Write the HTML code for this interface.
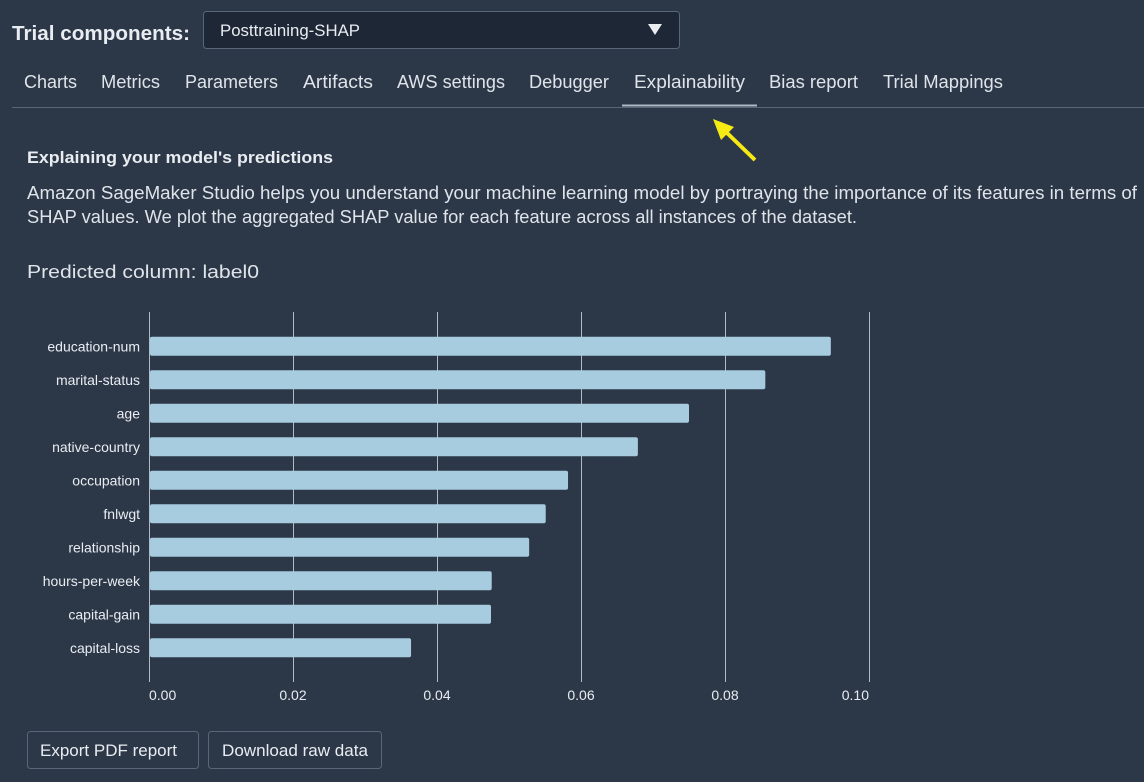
<!DOCTYPE html>
<html><head><meta charset="utf-8"><style>
html,body{margin:0;padding:0;background:#2c3747;}
svg{display:block;font-family:"Liberation Sans",sans-serif;}
</style></head><body>
<svg width="1144" height="782" viewBox="0 0 1144 782">
<rect x="0" y="0" width="1144" height="782" fill="#2c3747"/>
<text x="12" y="40" font-size="20" font-weight="bold" fill="#e9edf2" textLength="178" lengthAdjust="spacingAndGlyphs">Trial components:</text>
<g>
<rect x="203.5" y="11.5" width="476" height="37" rx="3" fill="#1e2735" stroke="#5a6577"/>
<text x="220" y="36" font-size="17" fill="#e9edf2" textLength="140" lengthAdjust="spacingAndGlyphs">Posttraining-SHAP</text>
<path d="M648 24 L662 24 L655 35 Z" fill="#e9edf2"/>
</g>
<g font-size="18" fill="#dfe4ea" id="tabs"></g>
<line x1="12" y1="107.5" x2="1144" y2="107.5" stroke="#5b6677"/>
<line x1="622" y1="105.5" x2="757" y2="105.5" stroke="#aeb7c4" stroke-width="2"/>
<g>
<line x1="755" y1="160" x2="724" y2="130" stroke="#f5ea14" stroke-width="4"/>
<path d="M713 119 L734 127 L721 140 Z" fill="#f5ea14"/>
</g>
<text x="27" y="163" font-size="17" font-weight="bold" fill="#e9edf2" textLength="306" lengthAdjust="spacingAndGlyphs">Explaining your model's predictions</text>
<text x="27" y="199" font-size="18" fill="#dfe4ea" textLength="1110" lengthAdjust="spacingAndGlyphs">Amazon SageMaker Studio helps you understand your machine learning model by portraying the importance of its features in terms of</text>
<text x="27" y="223" font-size="18" fill="#dfe4ea" textLength="830" lengthAdjust="spacingAndGlyphs">SHAP values. We plot the aggregated SHAP value for each feature across all instances of the dataset.</text>
<text x="27" y="278" font-size="18" fill="#dfe4ea" textLength="232" lengthAdjust="spacingAndGlyphs">Predicted column: label0</text>
<g id="chart"></g>
<g>
<rect x="27.5" y="731.5" width="171" height="37" rx="3" fill="none" stroke="#5a6577"/>
<text x="40" y="756" font-size="17" fill="#e9edf2" textLength="137" lengthAdjust="spacingAndGlyphs">Export PDF report</text>
</g>
<g>
<rect x="208.5" y="731.5" width="173" height="37" rx="3" fill="none" stroke="#5a6577"/>
<text x="222" y="756" font-size="17" fill="#e9edf2" textLength="146" lengthAdjust="spacingAndGlyphs">Download raw data</text>
</g>
</svg>
<script>
const NS="http://www.w3.org/2000/svg";
const tabNames=["Charts","Metrics","Parameters","Artifacts","AWS settings","Debugger","Explainability","Bias report","Trial Mappings"];
const tabX=[24,101,185,303,397,529,634,769,883];
const tabW=[53,59,93,70,108,80,111,89,120];
const tg=document.getElementById('tabs');
tabNames.forEach((t,i)=>{const e=document.createElementNS(NS,'text');
e.setAttribute('x',tabX[i]);e.setAttribute('y',88);e.setAttribute('textLength',tabW[i]);e.setAttribute('lengthAdjust','spacingAndGlyphs');e.textContent=t;


tg.appendChild(e);});

const categories=["education-num","marital-status","age","native-country","occupation","fnlwgt","relationship","hours-per-week","capital-gain","capital-loss"];
const shapValues=[0.0947,0.0856,0.075,0.0679,0.0582,0.0551,0.0528,0.0476,0.0475,0.0364];
const tickValues=[0,0.02,0.04,0.06,0.08,0.10];
const tickLabels=["0.00","0.02","0.04","0.06","0.08","0.10"];

const x0=149,x1=869,xMax=0.10;
const xs=v=>x0+(v/xMax)*(x1-x0);
const rowTop=329.5,rowH=33.5,barH=19;
const ys=i=>rowTop+i*rowH+(rowH-barH)/2;
const g=document.getElementById('chart');
function mk(tag,attrs){const e=document.createElementNS(NS,tag);for(const k in attrs)e.setAttribute(k,attrs[k]);g.appendChild(e);return e;}
tickValues.forEach((v,i)=>{
  const l=mk('line',{x1:xs(v)+0.5,x2:xs(v)+0.5,y1:312,y2:682,stroke:'#b4bac4','stroke-width':1});
  
  
  const anchor=i===0?'start':(i===tickValues.length-1?'end':'middle');
  const t=mk('text',{x:xs(v),y:700,'font-size':14,fill:'#e9edf2','text-anchor':anchor});
  t.textContent=tickLabels[i];
  
  
});
categories.forEach((c,i)=>{
  const r=mk('rect',{x:xs(0)+1,y:ys(i),width:Math.max(0,xs(shapValues[i])-xs(0)-1),height:barH,rx:2,fill:'#a7cce0'});
  
  
  const t=mk('text',{x:140,y:ys(i)+barH/2+5,'font-size':14,fill:'#e9edf2','text-anchor':'end'});
  t.textContent=c;
  
  
});
</script>
</body></html>
